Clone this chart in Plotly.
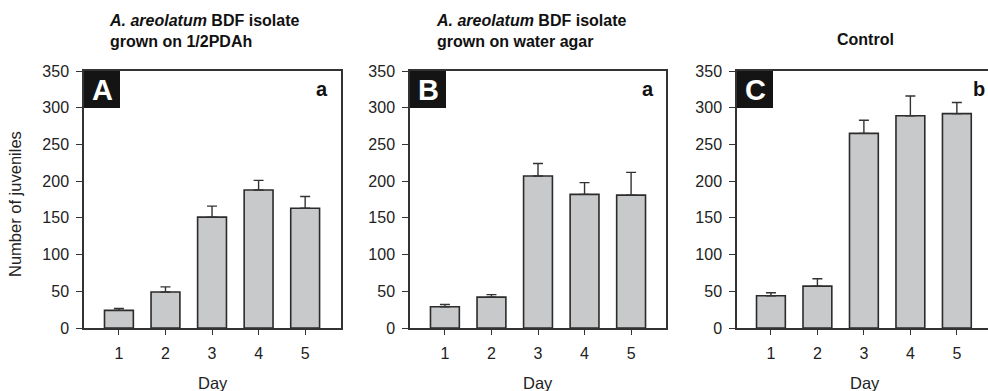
import plotly.graph_objects as go

days = [1, 2, 3, 4, 5]
day_labels = ["1", "2", "3", "4", "5"]

a_means = [24, 49, 151, 188, 163]
a_err = [2.5, 7, 15, 13, 16]
b_means = [29, 42, 207, 182, 181]
b_err = [3, 3.5, 17, 16, 31]
c_means = [44, 57, 265, 289, 292]
c_err = [4, 10, 18, 27, 15]

panel_letters = ["A", "B", "C"]
sig_letters = ["a", "a", "b"]
titles = [
    "<b><i>A. areolatum</i> BDF isolate<br>grown on 1/2PDAh</b>",
    "<b><i>A. areolatum</i> BDF isolate<br>grown on water agar</b>",
    "<b>Control</b>",
]
y_ticks = [0, 50, 100, 150, 200, 250, 300, 350]
y_title = "Number of juveniles"
x_title = "Day"

W, H = 988, 391
FONT = "Arial, Liberation Sans, sans-serif"
FRAME = "#333333"
TXT = "#222222"

# pixel domains
doms_px = [(84, 341), (410, 666), (737, 988)]
xranges = [[0.25, 5.77], [0.25, 5.75], [0.27, 5.67]]
y_bot, y_top = 328, 71
ydom = [(H - y_bot) / H, (H - y_top) / H]

fig = go.Figure()
series = [(a_means, a_err), (b_means, b_err), (c_means, c_err)]
for i, (m, e) in enumerate(series):
    xa = "x" if i == 0 else f"x{i+1}"
    ya = "y" if i == 0 else f"y{i+1}"
    fig.add_trace(go.Bar(
        x=days, y=m, xaxis=xa, yaxis=ya, width=0.62,
        marker=dict(color="#c8c9ca", line=dict(color="#2b2b2b", width=1.6)),
        error_y=dict(type="data", symmetric=False, array=e,
                     arrayminus=[0] * len(e), color="#333333",
                     thickness=1.4, width=5),
        showlegend=False,
    ))

layout = dict(width=W, height=H,
              margin=dict(l=0, r=0, t=0, b=0, pad=0, autoexpand=False),
              paper_bgcolor="white", plot_bgcolor="white", showlegend=False,
              font=dict(family=FONT, color=TXT))
for i in range(3):
    sfx = "" if i == 0 else str(i + 1)
    x0, x1 = doms_px[i]
    layout["xaxis" + sfx] = dict(
        domain=[x0 / W, min(x1 / W, 1.0)], range=xranges[i],
        anchor="y" + sfx, tickmode="array", tickvals=days, ticktext=day_labels,
        ticks="outside", ticklen=5, tickcolor=FRAME, tickwidth=1,
        showline=True, linecolor=FRAME, linewidth=1.5, mirror=True,
        showgrid=False, zeroline=False, ticklabelstandoff=5, automargin=False,
        tickfont=dict(size=16, color=TXT, family=FONT), fixedrange=True)
    layout["yaxis" + sfx] = dict(
        domain=ydom, range=[0, 350], anchor="x" + sfx,
        tickmode="array", tickvals=y_ticks,
        ticks="outside", ticklen=6, tickcolor=FRAME, tickwidth=1,
        showline=True, linecolor=FRAME, linewidth=1.5, automargin=False,
        mirror=(i < 2), showgrid=False, zeroline=False, ticklabelstandoff=4,
        tickfont=dict(size=16, color=TXT, family=FONT), fixedrange=True)
fig.update_layout(**layout)

shapes = []
annotations = []
for i in range(3):
    sfx = "" if i == 0 else str(i + 1)
    x0, x1 = doms_px[i]
    wpx = (x1 - x0) if i < 2 else 251
    shapes.append(dict(type="rect", xref=f"x{sfx} domain", yref=f"y{sfx} domain",
                       x0=0, x1=36 / wpx,
                       y0=1 - 37 / 257, y1=1,
                       fillcolor="#141414", line=dict(width=0), layer="above"))
    annotations.append(dict(xref=f"x{sfx} domain", yref=f"y{sfx} domain",
                            x=18 / wpx, y=1 - 18.5 / 257,
                            text=f"<b>{panel_letters[i]}</b>", showarrow=False,
                            font=dict(size=29, color="white", family=FONT),
                            xanchor="center", yanchor="middle"))
    # significance letter
    sx = [322, 648, 979][i]
    annotations.append(dict(xref="paper", yref="paper", x=sx / W, y=(H - 89) / H,
                            text=f"<b>{sig_letters[i]}</b>", showarrow=False,
                            font=dict(size=20, color="#111111", family=FONT),
                            xanchor="center", yanchor="middle"))
    # x title
    cx = [213, 538, 865][i]
    annotations.append(dict(xref="paper", yref="paper", x=cx / W, y=(H - 383) / H,
                            text=x_title, showarrow=False,
                            font=dict(size=16.5, color=TXT, family=FONT),
                            xanchor="center", yanchor="middle"))

# titles
annotations.append(dict(xref="paper", yref="paper", x=107 / W, y=(H - 31) / H,
                        text=titles[0], showarrow=False, align="left",
                        font=dict(size=16, color="#111111", family=FONT),
                        xanchor="left", yanchor="middle"))
annotations.append(dict(xref="paper", yref="paper", x=434 / W, y=(H - 31) / H,
                        text=titles[1], showarrow=False, align="left",
                        font=dict(size=16, color="#111111", family=FONT),
                        xanchor="left", yanchor="middle"))
annotations.append(dict(xref="paper", yref="paper", x=865 / W, y=(H - 40) / H,
                        text=titles[2], showarrow=False, align="center",
                        font=dict(size=16, color="#111111", family=FONT),
                        xanchor="center", yanchor="middle"))
# y title
annotations.append(dict(xref="paper", yref="paper", x=15 / W, y=(H - 204) / H,
                        text=y_title, showarrow=False, textangle=-90,
                        font=dict(size=16.5, color=TXT, family=FONT),
                        xanchor="center", yanchor="middle"))

fig.update_layout(shapes=shapes, annotations=annotations)
post = ("document.body.style.margin='0';document.body.style.padding='0';"
        "document.body.style.overflow='hidden';"
        "document.documentElement.style.overflow='hidden';")
fig.write_html("out.html", config={"displayModeBar": False}, post_script=post)
